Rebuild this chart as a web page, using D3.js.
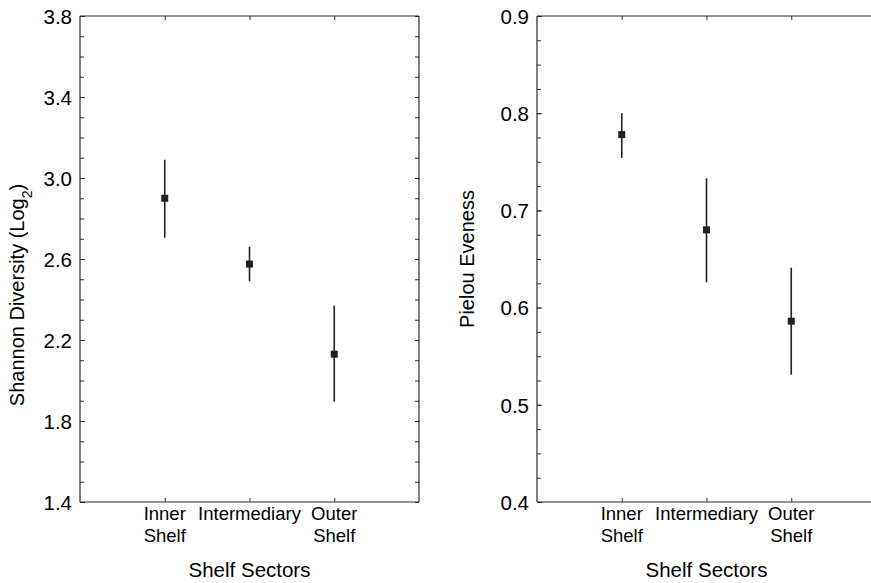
<!DOCTYPE html>
<html>
<head>
<meta charset="utf-8">
<script src="https://cdn.jsdelivr.net/npm/d3@7"></script>
<style>
  html, body { margin: 0; background: #fff; overflow: hidden; }
  svg { display: block; overflow: hidden; font-family: "Liberation Sans", Arial, sans-serif; }
</style>
</head>
<body>
<script>
'use strict';

const sectors = ["Inner Shelf", "Intermediary", "Outer Shelf"];

const shannonMean = [2.90, 2.575, 2.13];
const shannonLow = [2.705, 2.49, 1.895];
const shannonHigh = [3.09, 2.66, 2.37];
const shannonTicks = [1.4, 1.8, 2.2, 2.6, 3.0, 3.4, 3.8];

const pielouMean = [0.778, 0.680, 0.586];
const pielouLow = [0.754, 0.626, 0.531];
const pielouHigh = [0.800, 0.733, 0.641];
const pielouTicks = [0.4, 0.5, 0.6, 0.7, 0.8, 0.9];

const width = 871;
const height = 583;
const plotTop = 16;
const plotBottom = 502;
const ink = "#2b2b2b";

const svg = d3.select("body")
  .append("svg")
  .attr("width", width)
  .attr("height", height);

function drawPanel(opts) {
  const x0 = opts.left;
  const x1 = opts.left + 339;
  const lo = opts.ticks[0];
  const hi = opts.ticks[opts.ticks.length - 1];

  const xScale = d3.scalePoint()
    .domain(sectors)
    .range([x0, x1])
    .padding(1);

  const yScale = d3.scaleLinear()
    .domain([lo, hi])
    .range([plotBottom, plotTop]);

  const g = svg.append("g");

  // minor ticks, left and right, pointing inward
  const minor = d3.range(lo, hi + opts.minorStep / 2, opts.minorStep);
  g.append("g")
    .attr("transform", "translate(" + x0 + ",0)")
    .call(d3.axisLeft(yScale).tickValues(minor).tickSize(-4).tickFormat(""))
    .call(a => a.select(".domain").remove());
  if (x1 < width) {
    g.append("g")
      .attr("transform", "translate(" + x1 + ",0)")
      .call(d3.axisRight(yScale).tickValues(minor).tickSize(-4).tickFormat(""))
      .call(a => a.select(".domain").remove());
  }

  // major ticks with labels
  g.append("g")
    .attr("transform", "translate(" + x0 + ",0)")
    .call(d3.axisLeft(yScale).tickValues(opts.ticks).tickSize(-5).tickPadding(8)
      .tickFormat(d3.format(".1f")))
    .call(a => a.select(".domain").remove())
    .call(a => a.selectAll("text").style("font-size", "20.5px").attr("fill", "#000").attr("dy", "0.36em"));

  // category ticks, top and bottom
  g.append("g")
    .attr("transform", "translate(0," + plotBottom + ")")
    .call(d3.axisBottom(xScale).tickSize(-4).tickFormat(""))
    .call(a => a.select(".domain").remove());
  g.append("g")
    .attr("transform", "translate(0," + plotTop + ")")
    .call(d3.axisTop(xScale).tickSize(-4).tickFormat(""))
    .call(a => a.select(".domain").remove());

  g.selectAll(".tick line").attr("stroke", ink);

  // frame (the right panel runs off the page, so its right edge is not drawn)
  const xr = Math.min(x1, width + 2);
  const frame = [
    [[x0, plotTop], [xr, plotTop]],
    [[x0, plotBottom], [xr, plotBottom]],
    [[x0, plotTop], [x0, plotBottom]]
  ];
  if (x1 < width) frame.push([[x1, plotTop], [x1, plotBottom]]);
  g.selectAll(".frame")
    .data(frame)
    .enter()
    .append("path")
      .attr("class", "frame")
      .attr("d", d3.line())
      .attr("fill", "none")
      .attr("stroke", ink)
      .attr("stroke-width", 1.2);

  // category labels
  const labels = g.selectAll(".cat")
    .data(sectors)
    .enter()
    .append("text")
      .attr("class", "cat")
      .attr("text-anchor", "middle")
      .style("font-size", "18.5px")
      .attr("fill", "#000");
  labels.each(function(d) {
    const words = d === "Intermediary" ? [d] : d.split(" ");
    d3.select(this).selectAll("tspan")
      .data(words)
      .enter()
      .append("tspan")
        .attr("x", xScale(d))
        .attr("y", (w, i) => 520 + i * 22)
        .text(w => w);
  });

  // x title
  g.append("text")
    .attr("x", (x0 + x1) / 2)
    .attr("y", 577)
    .attr("text-anchor", "middle")
    .style("font-size", "20.5px")
    .attr("fill", "#000")
    .text("Shelf Sectors");

  // y title
  const yt = g.append("text")
    .attr("transform", "translate(" + opts.titleX + "," + opts.titleY + ")rotate(-90)")
    .attr("text-anchor", "middle")
    .style("font-size", "20px")
    .attr("fill", "#000");
  yt.append("tspan").text(opts.title);
  if (opts.sub) {
    yt.append("tspan").attr("baseline-shift", "sub").style("font-size", "14px").text(opts.sub);
    yt.append("tspan").text(")");
  }

  // error bars
  const rows = sectors.map((s, i) => ({
    sector: s, mean: opts.mean[i], low: opts.low[i], high: opts.high[i]
  }));

  g.selectAll(".err")
    .data(rows)
    .enter()
    .append("line")
      .attr("class", "err")
      .attr("x1", d => xScale(d.sector))
      .attr("x2", d => xScale(d.sector))
      .attr("y1", d => yScale(d.low))
      .attr("y2", d => yScale(d.high))
      .attr("stroke", "#222")
      .attr("stroke-width", 1.6);

  g.selectAll(".pt")
    .data(rows)
    .enter()
    .append("rect")
      .attr("class", "pt")
      .attr("x", d => xScale(d.sector) - 3.5)
      .attr("y", d => yScale(d.mean) - 3.5)
      .attr("width", 7)
      .attr("height", 7)
      .attr("fill", "#231f20");
}

drawPanel({
  left: 80,
  ticks: shannonTicks,
  minorStep: 0.1,
  mean: shannonMean,
  low: shannonLow,
  high: shannonHigh,
  title: "Shannon Diversity (Log",
  sub: "2",
  titleX: 24,
  titleY: 295
});

drawPanel({
  left: 537,
  ticks: pielouTicks,
  minorStep: 0.025,
  mean: pielouMean,
  low: pielouLow,
  high: pielouHigh,
  title: "Pielou Eveness",
  titleX: 474,
  titleY: 259
});
</script>
</body>
</html>
